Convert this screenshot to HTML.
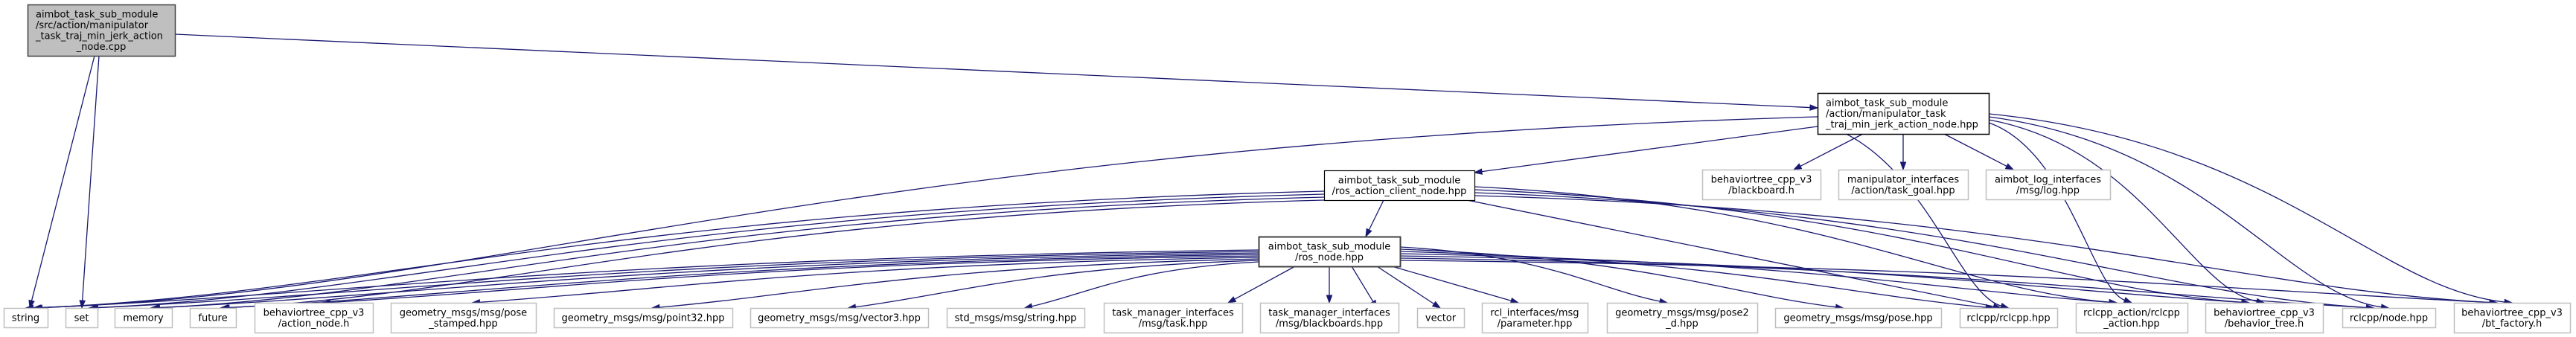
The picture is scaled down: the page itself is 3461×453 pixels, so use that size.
<!DOCTYPE html>
<html><head><meta charset="utf-8"><style>
html,body{margin:0;padding:0;background:#fff;}
svg{display:block;}
text{font-family:"DejaVu Sans","Liberation Sans",sans-serif;font-size:13px;fill:#000;}
</style></head><body>
<svg id="g" width="3461" height="453" viewBox="0 0 3461 453" xmlns="http://www.w3.org/2000/svg">
<g id="edges" fill="none" stroke="#191970" stroke-width="1.3"></g>
<g id="heads" fill="#191970" stroke="#191970"></g>
<g id="nodes"></g>
</svg>
<script>
var S=414,T=407;
var N={
root:{x:37,y:6,w:198,h:69,f:'#bfbfbf',s:'#404040',sw:1.5,l:['aimbot_task_sub_module','/src/action/manipulator','_task_traj_min_jerk_action','_node.cpp'],left:true},
manip:{x:2442,y:125,w:230,h:55,s:'#000',sw:1.5,l:['aimbot_task_sub_module','/action/manipulator_task','_traj_min_jerk_action_node.hpp'],left:true},
ac:{x:1779,y:229,w:202,h:40,s:'#000',sw:1.2,l:['aimbot_task_sub_module','/ros_action_client_node.hpp']},
rn:{x:1691,y:318,w:190,h:40,s:'#404040',sw:2,l:['aimbot_task_sub_module','/ros_node.hpp']},
bb:{x:2287,y:228,w:159,h:40,l:['behaviortree_cpp_v3','/blackboard.h']},
tg:{x:2470,y:228,w:174,h:40,l:['manipulator_interfaces','/action/task_goal.hpp']},
lg:{x:2668,y:228,w:167,h:40,l:['aimbot_log_interfaces','/msg/log.hpp']},
string:{x:5,y:S,w:59,h:26,l:['string']},
set:{x:88,y:S,w:43,h:26,l:['set']},
memory:{x:154,y:S,w:77,h:26,l:['memory']},
future:{x:255,y:S,w:62,h:26,l:['future']},
an:{x:342,y:T,w:159,h:40,l:['behaviortree_cpp_v3','/action_node.h']},
ps:{x:525,y:T,w:195,h:40,l:['geometry_msgs/msg/pose','_stamped.hpp']},
p32:{x:744,y:S,w:240,h:26,l:['geometry_msgs/msg/point32.hpp']},
v3:{x:1008,y:S,w:239,h:26,l:['geometry_msgs/msg/vector3.hpp']},
sh:{x:1272,y:S,w:185,h:26,l:['std_msgs/msg/string.hpp']},
tk:{x:1483,y:T,w:186,h:40,l:['task_manager_interfaces','/msg/task.hpp']},
bbs:{x:1693,y:T,w:186,h:40,l:['task_manager_interfaces','/msg/blackboards.hpp']},
vec:{x:1904,y:S,w:63,h:26,l:['vector']},
par:{x:1991,y:T,w:142,h:40,l:['rcl_interfaces/msg','/parameter.hpp']},
p2d:{x:2159,y:T,w:202,h:40,l:['geometry_msgs/msg/pose2','_d.hpp']},
pose:{x:2385,y:S,w:223,h:26,l:['geometry_msgs/msg/pose.hpp']},
rcl:{x:2633,y:S,w:131,h:26,l:['rclcpp/rclcpp.hpp']},
rca:{x:2789,y:T,w:150,h:40,l:['rclcpp_action/rclcpp','_action.hpp']},
bt:{x:2963,y:T,w:158,h:40,l:['behaviortree_cpp_v3','/behavior_tree.h']},
nd:{x:3147,y:S,w:125,h:26,l:['rclcpp/node.hpp']},
btf:{x:3297,y:T,w:156,h:40,l:['behaviortree_cpp_v3','/bt_factory.h']}
};
var NS='http://www.w3.org/2000/svg';
function el(t,a,p){var e=document.createElementNS(NS,t);for(var k in a)e.setAttribute(k,a[k]);p.appendChild(e);return e;}
var ng=document.getElementById('nodes'),eg=document.getElementById('edges'),hg=document.getElementById('heads');
for(var k in N){var n=N[k];
 el('rect',{x:n.x+.5,y:n.y+.5,width:n.w,height:n.h,fill:n.f||'#fff',stroke:n.s||'#bfbfbf','stroke-width':n.sw||1.5},ng);
 var lh=14.5,L=n.l.length,y0=n.y+n.h/2-(L-1)*lh/2+4.5;
 for(var i=0;i<L;i++){var lastc=(i==L-1&&L>1&&n.left&&k=='root');
  var t;
  if(n.left&&!lastc){t=el('text',{x:n.x+11,y:y0+i*lh},ng);}
  else t=el('text',{x:n.x+n.w/2,y:y0+i*lh,'text-anchor':'middle'},ng);
  t.textContent=n.l[i];}
}
function edge(a,b,ox,oy,tx){
 var A=N[a],B=N[b];
 var bx=B.x+B.w/2+(tx||0),by=B.y;
 var ax,ay,c1,c2,side=false;
 var acx=A.x+A.w/2;
 if(oy!==undefined){ax=(ox<0?A.x:A.x+A.w);ay=A.y+oy;side=true;}
 else{ax=Math.max(A.x+10,Math.min(A.x+A.w-10,acx+(bx-acx)*0.3));ay=A.y+A.h;}
 if(side){c1=[ax+(bx-ax)*0.55,ay+(by-ay)*0.15];c2=[bx+(ax-bx)*0.25,by-18];}
 else{c1=[ax+(bx-ax)*0.33,ay+(by-ay)*0.33];c2=[ax+(bx-ax)*0.66,ay+(by-ay)*0.66];}
 var dx=bx-c2[0],dy=by-c2[1],d=Math.sqrt(dx*dx+dy*dy);dx/=d;dy/=d;
 var ex=bx-dx*10,ey=by-dy*10;
 el('path',{d:'M'+ax+','+ay+' C'+c1+' '+(c2[0]-dx*6)+','+(c2[1]-dy*6)+' '+ex+','+ey},eg);
 var px=-dy*3.6,py=dx*3.6;
 el('polygon',{points:bx+','+by+' '+(ex+px)+','+(ey+py)+' '+(ex-px)+','+(ey-py)},hg);
}
function line(x1,y1,x2,y2){
 var dx=x2-x1,dy=y2-y1,d=Math.sqrt(dx*dx+dy*dy);dx/=d;dy/=d;var ex=x2-dx*10,ey=y2-dy*10;
 el('path',{d:'M'+x1+','+y1+' L'+ex+','+ey},eg);var px=-dy*3.6,py=dx*3.6;
 el('polygon',{points:x2+','+y2+' '+(ex+px)+','+(ey+py)+' '+(ex-px)+','+(ey-py)},hg);}
line(127,75,40,414);line(133,75,110,414);
line(235,46,2442,145);line(2442,170,1981,232);
line(2503,180,2410,228);line(2557,180,2557,228);line(2612,180,2705,228);
edge('manip','string',-1,32,0);
edge('manip','rcl',-1,40,0);
['rca','bt','nd','btf'].forEach(function(t,i){edge('manip',t,1,40+i*-4,0);});
line(1859,269,1835,318);
['string','set','memory','future'].forEach(function(t,i){edge('ac',t,-1,28+i*4,10);});
edge('ac','rcl',undefined,undefined,-10);
['rca','bt','nd','btf'].forEach(function(t,i){edge('ac',t,1,22+i*4,-20);});
['string','set','memory','future','an','ps','p32','v3','sh'].forEach(function(t,i){edge('rn',t,-1,18+i*2,12);});
line(1740,358,1650,407);line(1786,358,1786,407);line(1816,358,1850,414);
line(1850,358,1935,414);line(1870,358,2040,407);
['p2d','pose','rcl','rca','bt','nd','btf'].forEach(function(t,i){edge('rn',t,1,14+i*3,-20);});
</script>
</body></html>
